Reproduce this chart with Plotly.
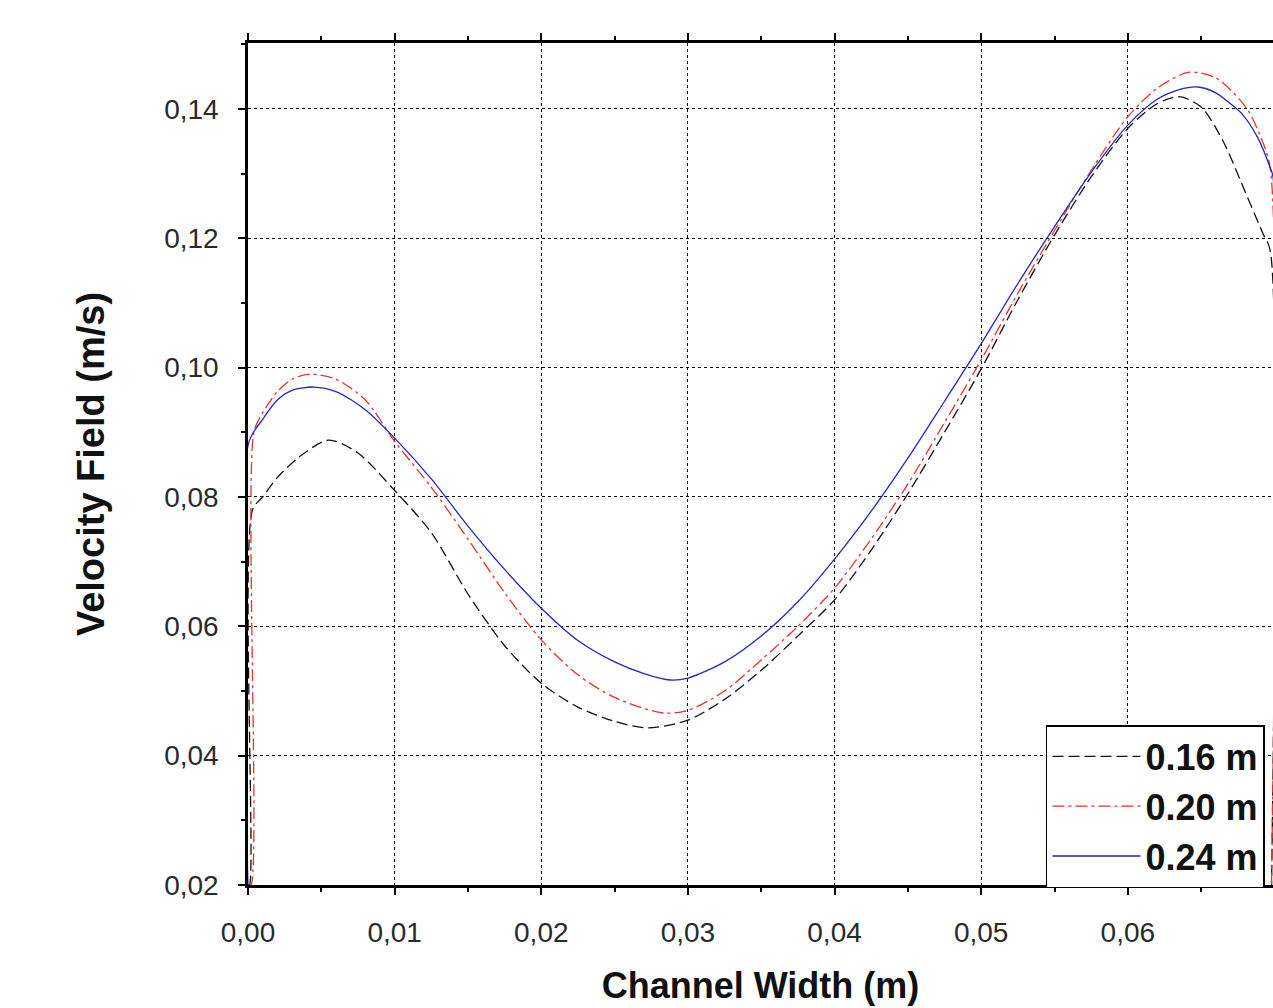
import plotly.graph_objects as go

# ---------------- data ----------------
x_016 = [0.0000, 0.0001, 0.0003, 0.0010, 0.0020, 0.0035, 0.0055, 0.0075, 0.0100, 0.0125,
         0.0150, 0.0175, 0.0200, 0.0225, 0.0250, 0.0272, 0.0300, 0.0325, 0.0350, 0.0375,
         0.0400, 0.0425, 0.0450, 0.0475, 0.0500, 0.0525, 0.0550, 0.0575, 0.0600, 0.0620,
         0.0635, 0.0650, 0.0665, 0.0680, 0.0692, 0.0697, 0.0698]
y_016 = [0.0200, 0.0200, 0.0780, 0.0800, 0.0830, 0.0862, 0.0888, 0.0868, 0.0810, 0.0745,
         0.0650, 0.0570, 0.0512, 0.0475, 0.0453, 0.0443, 0.0455, 0.0487, 0.0532, 0.0585,
         0.0641, 0.0718, 0.0805, 0.0900, 0.0998, 0.1105, 0.1205, 0.1295, 0.1370, 0.1408,
         0.1419, 0.1403, 0.1350, 0.1272, 0.1208, 0.1182, 0.0200]

x_020 = [0.0000, 0.0002, 0.0004, 0.0010, 0.0020, 0.0030, 0.0042, 0.0060, 0.0080, 0.0100,
         0.0125, 0.0150, 0.0175, 0.0200, 0.0225, 0.0250, 0.0283, 0.0300, 0.0325, 0.0350,
         0.0375, 0.0400, 0.0425, 0.0450, 0.0475, 0.0500, 0.0525, 0.0550, 0.0575, 0.0600,
         0.0620, 0.0642, 0.0660, 0.0672, 0.0682, 0.0690, 0.0697, 0.0698]
y_020 = [0.0200, 0.0200, 0.0900, 0.0930, 0.0963, 0.0982, 0.0990, 0.0982, 0.0950, 0.0886,
         0.0815, 0.0735, 0.0652, 0.0579, 0.0525, 0.0490, 0.0466, 0.0470, 0.0500, 0.0548,
         0.0600, 0.0659, 0.0735, 0.0820, 0.0915, 0.1012, 0.1115, 0.1212, 0.1305, 0.1388,
         0.1432, 0.1457, 0.1448, 0.1425, 0.1398, 0.1360, 0.1310, 0.0200]

x_024 = [0.0000, 0.00005, 0.0010, 0.0020, 0.0030, 0.0045, 0.0060, 0.0080, 0.0100, 0.0125,
         0.0150, 0.0175, 0.0200, 0.0225, 0.0250, 0.0270, 0.0288, 0.0300, 0.0325, 0.0350,
         0.0375, 0.0400, 0.0425, 0.0450, 0.0475, 0.0500, 0.0525, 0.0550, 0.0575, 0.0600,
         0.0620, 0.0635, 0.0648, 0.0660, 0.0670, 0.0678, 0.0688, 0.0697, 0.0699, 0.0700]
y_024 = [0.0200, 0.0884, 0.0920, 0.0950, 0.0965, 0.0970, 0.0963, 0.0935, 0.0891, 0.0828,
         0.0755, 0.0688, 0.0628, 0.0578, 0.0545, 0.0527, 0.0517, 0.0520, 0.0545, 0.0585,
         0.0638, 0.0704, 0.0778, 0.0860, 0.0948, 0.1037, 0.1130, 0.1218, 0.1302, 0.1375,
         0.1415, 0.1430, 0.1434, 0.1425, 0.1408, 0.1392, 0.1358, 0.1310, 0.1295, 0.0200]

series_names = ["0.16 m", "0.20 m", "0.24 m"]
x_ticks = [0.00, 0.01, 0.02, 0.03, 0.04, 0.05, 0.06, 0.07]
y_ticks = [0.02, 0.04, 0.06, 0.08, 0.10, 0.12, 0.14]

FONT = "Liberation Sans, Arial, sans-serif"

fig = go.Figure()
fig.add_trace(go.Scatter(x=x_016, y=y_016, mode="lines", name=series_names[0],
                         line=dict(color="#111111", width=1.3, dash="11px,5px",
                                   shape="spline", smoothing=0.8)))
fig.add_trace(go.Scatter(x=x_020, y=y_020, mode="lines", name=series_names[1],
                         line=dict(color="#e5332a", width=1.3, dash="12px,4px,3px,4px",
                                   shape="spline", smoothing=0.8)))
fig.add_trace(go.Scatter(x=x_024, y=y_024, mode="lines", name=series_names[2],
                         line=dict(color="#2525c8", width=1.3, shape="spline", smoothing=0.8)))

axis_common = dict(
    showline=True, linecolor="black", linewidth=2.5,
    ticks="outside", ticklen=7, tickwidth=2, tickcolor="black",
    showgrid=True, gridcolor="black", gridwidth=1.4, griddash="3px,3px",
    zeroline=False,
    tickfont=dict(family=FONT, size=28, color="#2a2a2a"),
    tickformat=".2f",
)

fig.update_xaxes(
    **axis_common,
    range=[0, 0.0699], tickvals=x_ticks, mirror="ticks",
    minor=dict(dtick=0.005, ticklen=4, tickwidth=2, tickcolor="black", ticks="outside", showgrid=False),
    ticklabelstandoff=14,
    title=dict(text="<b>Channel Width (m)</b>", font=dict(family=FONT, size=36, color="#111111"), standoff=26),
)
fig.update_yaxes(
    **axis_common,
    range=[0.02, 0.1502], tickvals=y_ticks,
    minor=dict(dtick=0.01, ticklen=4, tickwidth=2, tickcolor="black", ticks="outside", showgrid=False),
    ticklabelstandoff=14,
    title=dict(text="<b>Velocity Field (m/s)</b>", font=dict(family=FONT, size=38, color="#111111"), standoff=48),
)

fig.update_layout(
    width=1273, height=1008,
    margin=dict(l=248, r=0, t=43, b=123),
    plot_bgcolor="white", paper_bgcolor="white",
    separators=", ",
    showlegend=True,
    legend=dict(
        x=0.7785, y=0.1900, xanchor="left", yanchor="top",
        bgcolor="white", bordercolor="black", borderwidth=1.5,
        font=dict(family=FONT, size=36, color="#111111", weight="bold"),
        itemwidth=88, tracegroupgap=0,
    ),
)

fig.write_html(
    "out.html",
    config={"displayModeBar": False},
    post_script=(
        "document.body.style.margin='0';"
        "document.body.style.overflow='hidden';"
        "document.documentElement.style.overflow='hidden';"
    ),
)
